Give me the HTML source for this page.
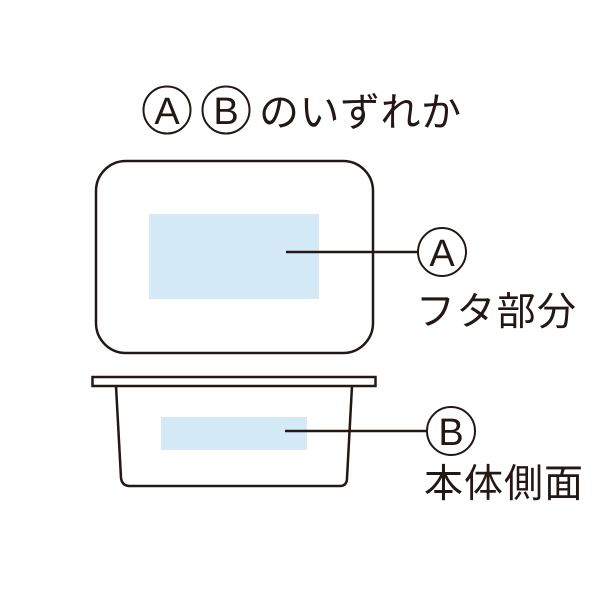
<!DOCTYPE html>
<html><head><meta charset="utf-8"><style>
body{margin:0;background:#fff}
</style></head><body>
<svg width="600" height="600" viewBox="0 0 600 600" xmlns="http://www.w3.org/2000/svg" font-family="Liberation Sans, Noto Sans CJK JP, sans-serif" fill="#231815">
<rect width="600" height="600" fill="#fff"/>
<g fill="none" stroke="#231815" stroke-width="2">
<circle cx="167" cy="110" r="23.5"/>
<circle cx="226" cy="110" r="23.5"/>
<circle cx="442" cy="252" r="24"/>
<circle cx="451" cy="431" r="24"/>
</g>
<text x="167" y="124" font-size="38" text-anchor="middle" font-family="Liberation Sans, sans-serif">A</text>
<text x="226" y="124" font-size="38" text-anchor="middle" font-family="Liberation Sans, sans-serif">B</text>
<text x="442" y="266" font-size="38" text-anchor="middle" font-family="Liberation Sans, sans-serif">A</text>
<text x="451" y="445" font-size="38" text-anchor="middle" font-family="Liberation Sans, sans-serif">B</text>
<text x="259" y="126" font-size="40" font-family="Noto Sans CJK JP, sans-serif" textLength="202">のいずれか</text>
<text x="416" y="325" font-size="39" font-family="Noto Sans CJK JP, sans-serif" textLength="160">フタ部分</text>
<text x="424" y="497" font-size="39" font-family="Noto Sans CJK JP, sans-serif" textLength="159">本体側面</text>
<rect x="96" y="161" width="277" height="192" rx="30" fill="#fff" stroke="#231815" stroke-width="2.5"/>
<rect x="149" y="214" width="170" height="85" fill="#d4eaf7"/>
<rect x="161" y="417" width="146" height="33" fill="#d4eaf7"/>
<rect x="92.5" y="377" width="283" height="9" fill="none" stroke="#231815" stroke-width="2.5"/>
<path d="M116 386 L121 478 Q122 486 130 486 L340 486 Q347 486 347 478 L352 386" fill="none" stroke="#231815" stroke-width="2.5"/>
<g stroke="#231815" stroke-width="2.5">
<line x1="286" y1="252" x2="418" y2="252"/>
<line x1="285" y1="431" x2="427" y2="431"/>
</g>
</svg>
</body></html>
